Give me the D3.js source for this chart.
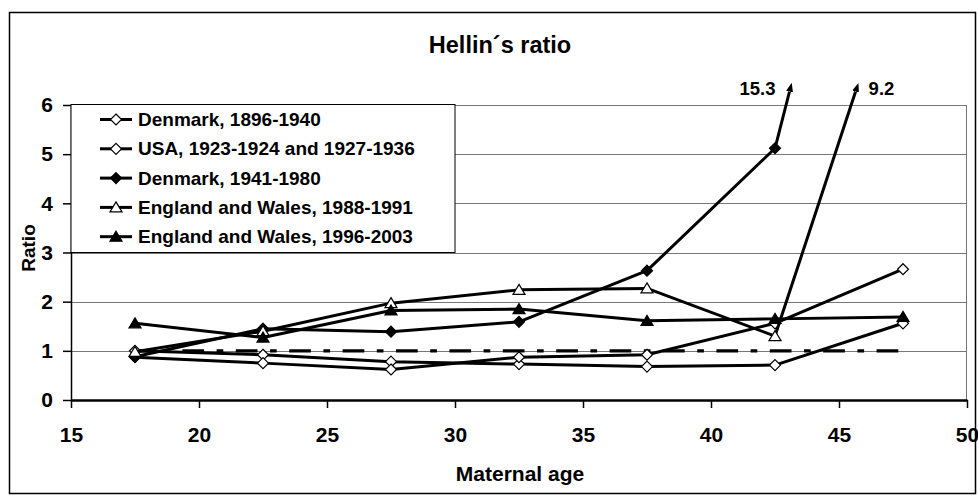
<!DOCTYPE html>
<html lang="en">
  <head>
    <meta charset="UTF-8" />
    <title>Hellin's ratio</title>
    <script src="https://cdn.jsdelivr.net/npm/d3@7"></script>
    <style>
      body { margin: 0; background: #fff; }
      svg text { font-family: "Liberation Sans", Arial, sans-serif; font-weight: bold; fill: #000; }
    </style>
  </head>
  <body>
    <svg width="978" height="496"></svg>
    <script>
      // maternal age groups (class midpoints)
      const ages = [17.5, 22.5, 27.5, 32.5, 37.5, 42.5, 47.5];
      const denmark1896 = [1.0, 0.92, 0.78, 0.73, 0.68, 0.71, 1.56];
      const usa1923 = [0.87, 0.75, 0.62, 0.87, 0.92, 1.56, 2.66];
      const denmark1941 = [0.88, 1.45, 1.39, 1.59, 2.63, 5.12, 15.3];
      const england1988 = [0.98, 1.4, 1.97, 2.24, 2.27, 1.3, 9.2];
      const england1996 = [1.56, 1.27, 1.82, 1.85, 1.61, 1.65, 1.69];
      const expected = [1, 1, 1, 1, 1, 1, 1];

      const seriesNames = [
        "Denmark, 1896-1940",
        "USA, 1923-1924 and 1927-1936",
        "Denmark, 1941-1980",
        "England and Wales, 1988-1991",
        "England and Wales, 1996-2003",
      ];
      const seriesValues = [denmark1896, usa1923, denmark1941, england1988, england1996];
      const xTicks = [15, 20, 25, 30, 35, 40, 45, 50];
      const yTicks = [0, 1, 2, 3, 4, 5, 6];

      const shapes = ["diamond", "diamond", "diamond", "triangle", "triangle"];
      const filled = [false, false, true, false, true];

      const svg = d3.select("svg");
      const margin = { top: 105, right: 11, bottom: 96, left: 71 };
      const width = +svg.attr("width") - margin.left - margin.right;
      const height = +svg.attr("height") - margin.top - margin.bottom;

      // chart frame
      svg.append("rect")
        .attr("x", 9.5).attr("y", 12.5)
        .attr("width", 966).attr("height", 481)
        .attr("fill", "#fff").attr("stroke", "#000").attr("stroke-width", 1.5);

      svg.append("defs").append("marker")
        .attr("id", "arrow")
        .attr("viewBox", "0 -4 9 8")
        .attr("refX", 0).attr("refY", 0)
        .attr("markerWidth", 9).attr("markerHeight", 8)
        .attr("markerUnits", "userSpaceOnUse")
        .attr("orient", "auto")
        .append("path").attr("d", "M0,-3.5L9,0L0,3.5Z").attr("fill", "#000");

      svg.append("text")
        .attr("x", 500).attr("y", 53)
        .attr("text-anchor", "middle")
        .attr("font-size", 23.5)
        .text("Hellin\u00b4s ratio");

      const g = svg.append("g")
        .attr("transform", "translate(" + margin.left + "," + margin.top + ")");

      const x = d3.scaleLinear().domain([15, 50]).range([0, width]);
      const y = d3.scaleLinear().domain([0, 6]).range([height, 0]);

      // gridlines + plot border
      g.append("g").selectAll("line")
        .data(yTicks.slice(1))
        .join("line")
        .attr("x1", 0).attr("x2", width)
        .attr("y1", (d) => Math.round(y(d)) + 0.5)
        .attr("y2", (d) => Math.round(y(d)) + 0.5)
        .attr("stroke", "#777").attr("stroke-width", 1);
      g.append("line")
        .attr("x1", width - 0.5).attr("x2", width - 0.5)
        .attr("y1", 0).attr("y2", height)
        .attr("stroke", "#777");

      // axes
      g.append("g")
        .attr("transform", "translate(0," + height + ")")
        .call(d3.axisBottom(x).tickValues(xTicks).tickSize(8).tickSizeOuter(0).tickPadding(19).tickFormat(d3.format("d")))
        .call((a) => a.select(".domain").attr("stroke-width", 2.5))
        .call((a) => a.selectAll(".tick line").attr("stroke-width", 1.5))
        .call((a) => a.selectAll("text").attr("font-size", 21));

      g.append("g")
        .call(d3.axisLeft(y).tickValues(yTicks).tickSize(8).tickSizeOuter(0).tickPadding(10).tickFormat(d3.format("d")))
        .call((a) => a.select(".domain").attr("stroke-width", 1.5))
        .call((a) => a.selectAll(".tick line").attr("stroke-width", 1.5))
        .call((a) => a.selectAll("text").attr("font-size", 21));

      svg.append("text")
        .attr("x", 520).attr("y", 481)
        .attr("text-anchor", "middle")
        .attr("font-size", 21)
        .text("Maternal age");

      svg.append("text")
        .attr("transform", "translate(35,248) rotate(-90)")
        .attr("text-anchor", "middle")
        .attr("font-size", 19)
        .text("Ratio");

      const line = d3.line().x((d) => x(d[0])).y((d) => y(d[1]));

      // expected ratio of 1
      g.append("path")
        .datum(ages.map((a, i) => [a, expected[i]]))
        .attr("fill", "none")
        .attr("stroke", "#000")
        .attr("stroke-width", 3.3)
        .attr("stroke-dasharray", "21.7,12.5,6.7,12.5")
        .attr("stroke-dashoffset", 6)
        .attr("d", line);

      const diamond = "M0,-5.5L5.5,0L0,5.5L-5.5,0Z";
      const triangle = "M0,-5.5L6,4.5L-6,4.5Z";

      // values above this are drawn as an arrow leaving the plot
      const capValue = y.invert(91.5 - margin.top);

      seriesValues.forEach((vals, s) => {
        const pts = [];
        let over = null;
        for (let i = 0; i < vals.length; i++) {
          if (vals[i] > capValue) {
            const t = (capValue - vals[i - 1]) / (vals[i] - vals[i - 1]);
            pts.push([ages[i - 1] + t * (ages[i] - ages[i - 1]), capValue]);
            over = vals[i];
            break;
          }
          pts.push([ages[i], vals[i]]);
        }
        const path = g.append("path")
          .datum(pts)
          .attr("fill", "none")
          .attr("stroke", "#000")
          .attr("stroke-width", 3)
          .attr("stroke-linejoin", "round")
          .attr("d", line);

        if (over !== null) {
          path.attr("marker-end", "url(#arrow)");
          const end = pts[pts.length - 1];
          const ex = x(end[0]);
          const left = ex < x(45);
          g.append("text")
            .attr("x", left ? ex - 14 : ex + 13)
            .attr("y", y(end[1]) + 3.5)
            .attr("text-anchor", left ? "end" : "start")
            .attr("font-size", 18.5)
            .text(d3.format(".1f")(over));
        }

        g.append("g").selectAll("path")
          .data(ages.map((a, i) => [a, vals[i]]).filter((d) => d[1] <= 6))
          .join("path")
          .attr("transform", (d) => "translate(" + x(d[0]) + "," + y(d[1]) + ")")
          .attr("d", shapes[s] === "diamond" ? diamond : triangle)
          .attr("fill", filled[s] ? "#000" : "#fff")
          .attr("stroke", "#000")
          .attr("stroke-width", 1.2);
      });

      // legend
      const legend = g.append("g");
      legend.append("rect")
        .attr("x", 0).attr("y", -0.5)
        .attr("width", 384).attr("height", 148)
        .attr("fill", "#fff").attr("stroke", "#000").attr("stroke-width", 1);

      const items = legend.selectAll("g.item")
        .data(seriesNames)
        .join("g")
        .attr("class", "item")
        .attr("transform", (d, i) => "translate(0," + (14.5 + i * 29.3) + ")");
      items.append("line")
        .attr("x1", 29).attr("x2", 61)
        .attr("stroke", "#000").attr("stroke-width", 3);
      items.append("path")
        .attr("transform", "translate(45,0)")
        .attr("d", (d, i) => (shapes[i] === "diamond" ? diamond : triangle))
        .attr("fill", (d, i) => (filled[i] ? "#000" : "#fff"))
        .attr("stroke", "#000")
        .attr("stroke-width", 1.2);
      items.append("text")
        .attr("x", 67)
        .attr("dy", "0.35em")
        .attr("font-size", 19)
        .text((d) => d);
    </script>
  </body>
</html>
